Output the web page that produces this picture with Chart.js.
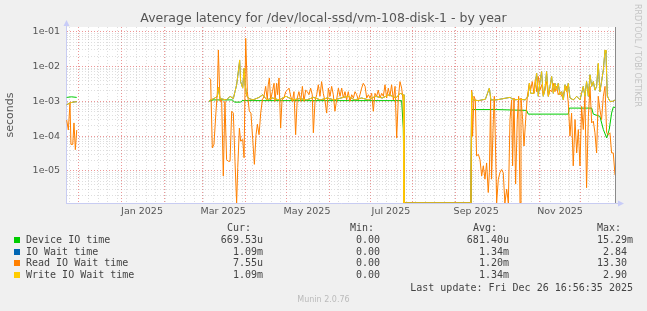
<!DOCTYPE html>
<html>
<head>
<meta charset="utf-8">
<script src="https://cdn.jsdelivr.net/npm/chart.js@4.4.1/dist/chart.umd.min.js"></script>
<style>
  body { margin: 0; background: #f0f0f0; }
  #wrap { position: relative; width: 647px; height: 311px; overflow: hidden; }
  canvas { position: absolute; left: 0; top: 0; }
  .txt { position: absolute; white-space: pre; font-family: "DejaVu Sans Mono", monospace;
         font-size: 10px; line-height: 12px; height: 12px; color: #444; }
  #title { position: absolute; left: 0; width: 647px; top: 10px; text-align: center;
           font-family: "DejaVu Sans", sans-serif; font-size: 12.5px; line-height: 16px; color: #555; }
  #brand { position: absolute; left: 633px; top: 4px; writing-mode: vertical-rl;
           font-family: "DejaVu Sans", sans-serif; font-size: 8px; color: #c4c4c4; }
  #munin { position: absolute; left: 0; width: 647px; top: 295px; text-align: center;
           font-family: "DejaVu Sans", sans-serif; font-size: 8px; line-height: 10px; color: #bbb; }
  .box { position: absolute; width: 6px; height: 6px; }
</style>
</head>
<body>
<div id="wrap">
  <canvas id="myChart" width="647" height="311"></canvas>
  <div id="title">Average latency for /dev/local-ssd/vm-108-disk-1 - by year</div>
  <div id="brand">RRDTOOL / TOBI OETIKER</div>
  <div id="legend"></div>
  <div id="munin">Munin 2.0.76</div>
</div>
<script>
// days since the start of the graph (Nov 21 2024 16:56), values in seconds
const deviceDays = [0.5, 4, 7.8, 8.5,
  104.2, 107, 121, 122.5, 127, 128, 160, 200, 244.1, 245.3, 246, 294.5,
  295, 313.2, 335, 336.2, 365.3, 366, 382.3, 383.5, 388.3, 390.8, 393.2, 395.1, 396.8, 398, 399.3];
const deviceTime = [1.3e-3, 1.35e-3, 1.3e-3, null,
  1.0e-3, 1.1e-3, 1.1e-3, 9.5e-4, 9.5e-4, 1.05e-3, 1.05e-3, 1.05e-3, 1.05e-3, 1.7e-4, 0, 0,
  5.8e-4, 5.8e-4, 5.5e-4, 4.3e-4, 4.3e-4, 6.4e-4, 6.4e-4, 4.3e-4, 3.7e-4, 1.55e-4, 8.9e-5, 1.55e-4, 4.6e-4, 6.8e-4, 6.7e-4];

const writeDays = [0.5, 2.9, 5.0, 7.8, 8.5,
  104.2, 107.6, 110.1, 110.8, 112.0, 116.8, 119.3, 121.7, 122.9, 124.1,
  125.0, 126.3, 127.0, 128.5, 129.5, 130.3, 131.5, 133.3, 136.0, 140.4,
  143.0, 146.0, 150.0, 155.0, 160.0, 165.0, 170.0, 175.0, 180.0, 185.0,
  190.0, 195.0, 200.0, 205.0, 210.0, 215.0, 220.0, 225.0, 230.0, 235.0,
  240.0, 243.0, 245.3, 245.8, 294.5,
  295.0, 295.7, 300.0, 305.0, 307.9, 309.0, 313.0, 318.0, 322.9, 326.0,
  330.0, 334.0, 336.0, 337.0, 338.0, 340.3, 342.3, 343.5, 344.7, 345.9,
  347.1, 348.3, 349.5, 350.8, 352.0, 353.2, 354.4, 355.6, 356.8, 358.0,
  359.2, 360.5, 361.7, 362.9, 364.1, 365.3, 366.5, 369.0, 371.4, 373.8,
  376.2, 377.4, 378.6, 379.9, 381.1, 382.3, 383.5, 384.7, 385.9, 387.1,
  388.3, 389.5, 390.8, 392.0, 392.7, 393.7, 395.6, 397.5, 399.3];
const writeWait = [8.0e-4, 9.0e-4, 9.5e-4, 9.8e-4, null,
  1.05e-3, 1.2e-3, 1.4e-3, 2.5e-3, 1.2e-3, 1.1e-3, 1.4e-3, 1.2e-3, 1.9e-3, 3.0e-3,
  5.7e-3, 1.55e-2, 3.7e-3, 2.4e-3, 9.0e-3, 3.0e-3, 1.4e-3, 1.2e-3, 1.1e-3, 1.3e-3,
  1.55e-3, 1.1e-3, 1.25e-3, 1.1e-3, 1.4e-3, 1.1e-3, 1.2e-3, 1.1e-3, 1.3e-3, 1.1e-3,
  1.25e-3, 1.1e-3, 1.25e-3, 1.4e-3, 1.1e-3, 1.25e-3, 1.1e-3, 1.4e-3, 1.25e-3, 1.55e-3,
  1.25e-3, 1.7e-3, 1.55e-3, 0, 0,
  1.9e-3, 1.1e-3, 1.05e-3, 1.15e-3, 2.4e-3, 1.1e-3, 1.1e-3, 1.2e-3, 1.3e-3, 1.1e-3,
  1.15e-3, 1.1e-3, 1.4e-3, 3.3e-3, 1.7e-3, 1.7e-3, 6.4e-3, 1.4e-3, 3.7e-3, 7.2e-3,
  1.4e-3, 2.1e-3, 7.2e-3, 1.4e-3, 2.7e-3, 5.2e-3, 1.7e-3, 3.3e-3, 2.1e-3, 3.3e-3,
  1.55e-3, 1.9e-3, 1.1e-3, 3.0e-3, 1.9e-3, 3.3e-3, 1.25e-3, 1.1e-3, 1.4e-3, 1.1e-3,
  2.7e-3, 1.4e-3, 3.7e-3, 1.4e-3, 5.8e-3, 2.7e-3, 3.7e-3, 2.1e-3, 2.7e-3, 1.25e-2,
  1.9e-3, 3.7e-3, 8.0e-3, 3.0e-2, 2.4e-2, 1.4e-3, 1.0e-3, 1.0e-3, 1.09e-3];
// IO wait is read at the same days as the write wait (it sits under it)
const ioWait = [8.0e-4, 9.0e-4, 9.5e-4, 9.8e-4, null,
  1.05e-3, 1.2e-3, 1.4e-3, 2.5e-3, 1.2e-3, 1.1e-3, 1.4e-3, 1.2e-3, 1.9e-3, 3.0e-3,
  5.7e-3, 1.5e-2, 3.7e-3, 2.4e-3, 8.8e-3, 3.0e-3, 1.4e-3, 1.2e-3, 1.1e-3, 1.3e-3,
  1.55e-3, 1.1e-3, 1.25e-3, 1.1e-3, 1.4e-3, 1.1e-3, 1.2e-3, 1.1e-3, 1.3e-3, 1.1e-3,
  1.25e-3, 1.1e-3, 1.25e-3, 1.4e-3, 1.1e-3, 1.25e-3, 1.1e-3, 1.4e-3, 1.25e-3, 1.55e-3,
  1.25e-3, 1.7e-3, 1.55e-3, 0, 0,
  1.9e-3, 1.1e-3, 1.05e-3, 1.15e-3, 2.4e-3, 1.1e-3, 1.1e-3, 1.2e-3, 1.3e-3, 1.1e-3,
  1.15e-3, 1.1e-3, 1.4e-3, 3.3e-3, 1.7e-3, 1.7e-3, 6.4e-3, 1.4e-3, 3.7e-3, 7.2e-3,
  1.4e-3, 2.1e-3, 7.2e-3, 1.4e-3, 2.7e-3, 5.2e-3, 1.7e-3, 3.3e-3, 2.1e-3, 3.3e-3,
  1.55e-3, 1.9e-3, 1.1e-3, 3.0e-3, 1.9e-3, 3.3e-3, 1.25e-3, 1.1e-3, 1.4e-3, 1.1e-3,
  2.7e-3, 1.4e-3, 3.7e-3, 1.4e-3, 5.8e-3, 2.7e-3, 3.7e-3, 2.1e-3, 2.7e-3, 1.2e-2,
  1.9e-3, 3.7e-3, 8.0e-3, 2.9e-2, 2.4e-2, 1.4e-3, 1.0e-3, 1.0e-3, 1.09e-3];

const readDays = [0.5, 1.7, 2.9, 3.6, 4.9, 5.8, 6.8, 7.8, 8.5,
  104.2, 105.2, 106.4, 107.6, 109.1, 110.1, 110.8, 112.0, 113.2, 114.4,
  115.6, 116.8, 118.1, 119.3, 120.5, 121.7, 122.9, 124.1, 124.9, 126.1,
  127.0, 128.5, 129.5, 130.7, 131.9, 133.3, 134.5, 135.8, 137.0, 138.2,
  139.2, 140.4, 141.6, 142.8, 144.0, 145.2, 146.4, 147.1, 147.9, 148.8,
  150.1, 151.3, 152.0, 153.2, 153.9, 154.9, 156.1, 157.1, 158.5, 159.8,
  161.0, 162.2, 163.4, 164.6, 165.8, 167.0, 168.2, 169.4, 170.7, 171.9,
  173.1, 174.3, 175.5, 176.7, 177.9, 179.1, 179.9, 181.1, 182.3, 183.5,
  184.7, 185.9, 187.1, 188.4, 189.6, 190.8, 192.0, 193.2, 194.4, 195.6,
  196.8, 198.1, 199.3, 200.5, 201.7, 202.9, 204.1, 205.3, 206.5, 207.8,
  209.0, 210.2, 211.4, 212.6, 213.8, 215.0, 216.2, 217.5, 218.7, 219.9,
  221.1, 222.3, 223.5, 224.7, 225.9, 227.1, 228.4, 229.6, 230.8, 232.0,
  233.2, 234.4, 235.6, 236.8, 238.1, 239.3, 240.5, 241.7, 242.9, 244.1,
  245.3, 245.8, 294.5,
  295.0, 295.7, 296.7, 297.7, 298.6, 299.9, 301.1, 302.3, 303.5, 304.7,
  305.9, 307.1, 307.9, 308.8, 309.5, 310.8, 311.5, 312.2, 313.2, 314.4,
  315.6, 316.8, 318.0, 319.2, 320.5, 321.7, 322.9, 324.1, 324.8, 325.8,
  327.0, 328.2, 329.2, 330.2, 330.9, 332.1, 333.1, 334.3, 335.5, 337.0,
  337.9, 339.1, 340.3, 341.3, 342.3, 343.5, 344.7, 345.9, 347.1, 348.3,
  349.5, 350.8, 352.0, 353.2, 354.4, 355.6, 356.8, 358.0, 359.2, 360.5,
  361.7, 362.9, 364.1, 365.3, 366.5, 367.7, 368.9, 370.2, 371.4, 372.6,
  373.8, 375.0, 376.2, 377.4, 378.6, 379.9, 381.1, 382.3, 383.5, 384.7,
  385.9, 387.1, 388.3, 389.5, 390.8, 392.0, 393.2, 394.4, 395.6, 396.8,
  398.0, 399.3];
const readWait = [2.9e-4, 1.5e-4, 8.9e-4, 5.8e-5, 5.8e-5, 2.4e-4, 4.1e-5, 1.5e-4, null,
  4.7e-3, 4.2e-3, 4.6e-5, 5.8e-5, 5.2e-4, 1.9e-3, 3.0e-2, 1.0e-3, 1.1e-3, 7.2e-6,
  1.0e-3, 2.1e-5, 1.9e-5, 1.9e-5, 5.2e-4, 4.6e-4, 1.9e-5, 0, 1.25e-5, 1.7e-4,
  7.2e-5, 8.0e-5, 2.4e-5, 6.5e-2, 1.9e-3, 5.2e-4, 4.6e-4, 8.0e-5, 1.55e-5, 1.1e-4,
  2.2e-4, 1.1e-4, 4.6e-4, 1.1e-3, 1.4e-3, 2.7e-3, 1.1e-3, 3.0e-3, 4.7e-3, 1.1e-3,
  1.9e-3, 3.3e-3, 1.0e-3, 3.3e-3, 1.55e-3, 4.7e-3, 1.7e-4, 1.1e-3, 1.25e-3, 1.9e-3,
  2.1e-3, 2.4e-3, 1.4e-3, 1.0e-3, 1.9e-3, 1.1e-4, 1.25e-3, 1.9e-3, 1.0e-3, 2.7e-3,
  1.0e-3, 2.1e-3, 1.9e-3, 1.55e-3, 2.4e-3, 1.55e-3, 1.25e-4, 1.0e-3, 1.55e-3, 3.0e-3,
  1.4e-3, 3.7e-3, 1.7e-3, 1.0e-3, 4.6e-4, 2.4e-3, 1.4e-3, 2.7e-3, 1.55e-3, 5.2e-4,
  1.1e-3, 2.4e-3, 1.4e-3, 2.4e-3, 1.25e-3, 1.9e-3, 1.1e-3, 1.9e-3, 1.0e-3, 1.55e-3,
  1.25e-3, 1.9e-3, 1.55e-3, 1.1e-3, 1.55e-3, 2.4e-3, 3.3e-3, 2.7e-3, 1.25e-3, 1.55e-3,
  1.25e-3, 1.7e-3, 5.2e-4, 1.7e-3, 1.4e-3, 2.1e-3, 1.25e-3, 1.7e-3, 1.4e-3, 3.0e-3,
  1.25e-3, 2.4e-3, 1.4e-3, 3.0e-3, 1.1e-3, 2.7e-3, 8.9e-5, 1.25e-3, 3.7e-3, 2.4e-3,
  1.0e-3, 0, 0,
  2.1e-3, 1.0e-4, 1.4e-3, 1.1e-3, 2.7e-5, 3.0e-5, 2.1e-5, 7.2e-6, 1.4e-5, 5.8e-6,
  1.7e-5, 2.4e-6, 8.9e-6, 1.1e-3, 5.8e-6, 3.0e-4, 1.4e-3, 1.0e-4, 0, 5.8e-6,
  8.9e-6, 1.1e-5, 8.9e-6, 0, 3.0e-6, 0, 3.0e-4, 1.1e-3, 1.4e-5, 1.25e-3,
  4.2e-6, 3.0e-4, 1.4e-3, 0, 1.25e-3, 3.0e-4, 5.2e-5, 3.0e-4, 1.4e-3, 3.3e-3,
  2.1e-3, 3.7e-3, 1.7e-3, 4.2e-3, 1.9e-3, 5.2e-3, 2.1e-3, 3.0e-3, 1.55e-3, 2.4e-3,
  3.7e-3, 1.4e-3, 2.1e-3, 1.9e-3, 3.3e-3, 1.9e-3, 2.7e-3, 1.55e-3, 1.9e-3, 1.4e-3,
  1.7e-3, 2.1e-3, 2.7e-3, 9.0e-4, 1.0e-4, 4.6e-4, 1.4e-5, 3.0e-4, 3.3e-5, 1.55e-4,
  1.4e-5, 7.2e-4, 1.55e-4, 1.4e-3, 3.3e-6, 3.7e-4, 2.7e-3, 2.4e-4, 2.7e-4, 1.25e-4,
  3.3e-5, 1.4e-3, 5.8e-4, 3.0e-4, 1.4e-3, 2.7e-3, 1.25e-4, 1.1e-4, 1.25e-4, 3.3e-5,
  3.3e-5, 7.6e-6];

const seriesNames = ['Device IO time', 'IO Wait time', 'Read IO Wait time', 'Write IO Wait time'];
const curText = ['669.53u', '1.09m', '7.55u', '1.09m'];
const minText = ['0.00', '0.00', '0.00', '0.00'];
const avgText = ['681.40u', '1.34m', '1.20m', '1.34m'];
const maxText = ['15.29m', '2.84', '13.30', '2.90'];
const xTickLabels = ['Jan 2025', 'Mar 2025', 'May 2025', 'Jul 2025', 'Sep 2025', 'Nov 2025'];
const yTickLabels = ['1e-05', '1e-04', '1e-03', '1e-02', '1e-01'];

const colors = ['#00cc00', '#0066b3', '#ff8000', '#ffcc00'];
const START = new Date(2024, 10, 21, 16, 56, 35);
const TOTAL_DAYS = 400;
const Y_MIN = 1.2e-6;
const Y_MAX = 0.137;
const MONTHS = ['Jan','Feb','Mar','Apr','May','Jun','Jul','Aug','Sep','Oct','Nov','Dec'];

const toDay = d => (d - START) / 864e5;
// zero values sit on the bottom edge like rrdtool does on a log axis
const points = (days, vals) => days.map((d, i) => ({ x: d, y: vals[i] === 0 ? Y_MIN : vals[i] }));

// x grid: month starts (red), sundays (grey), label positions (no line)
const xTicks = [];
for (let i = 0; i < 15; i++) {
  const v = toDay(new Date(2024, 10 + i, 1));
  if (v >= 0 && v <= TOTAL_DAYS) xTicks.push({ value: v, kind: 'major', label: '' });
}
for (let d = new Date(2024, 10, 24); toDay(d) <= TOTAL_DAYS; d = new Date(d.getFullYear(), d.getMonth(), d.getDate() + 7)) {
  const v = toDay(d);
  if (!xTicks.some(t => Math.abs(t.value - v) < 0.05)) xTicks.push({ value: v, kind: 'minor', label: '' });
}
xTickLabels.forEach(l => {
  const [m, y] = l.split(' ');
  xTicks.push({ value: toDay(new Date(+y, MONTHS.indexOf(m), 16)), kind: 'label', label: l });
});
xTicks.sort((a, b) => a.value - b.value);

// y grid: decades (red, labelled) and 2..9 (grey)
const yTicks = [];
for (let e = -7; e <= 0; e++) {
  for (let m = 1; m <= 9; m++) {
    const v = Number(m + 'e' + e);
    if (v < Y_MIN || v > Y_MAX) continue;
    const lab = yTickLabels.find(s => Math.abs(Number(s) - v) < v * 1e-6);
    yTicks.push({ value: v, kind: m === 1 ? 'major' : 'minor', label: lab || '' });
  }
}

const gridColor = { major: 'rgba(225, 80, 80, 0.6)', minor: 'rgba(160, 160, 160, 0.35)', label: 'rgba(0,0,0,0)' };

const decor = {
  id: 'decor',
  beforeDraw(chart) {
    const { ctx, chartArea: a } = chart;
    ctx.save();
    ctx.fillStyle = '#ffffff';
    ctx.fillRect(a.left, a.top, a.right - a.left, a.bottom - a.top);
    ctx.restore();
  },
  afterDraw(chart) {
    const { ctx, chartArea: a, scales } = chart;
    const xNow = Math.round(scales.x.getPixelForValue(deviceDays[deviceDays.length - 1])) + 0.5;
    ctx.save();
    ctx.strokeStyle = '#8a8a8a';
    ctx.lineWidth = 1;
    ctx.beginPath();
    ctx.moveTo(xNow, a.top);
    ctx.lineTo(xNow, a.bottom);
    ctx.stroke();
    ctx.strokeStyle = '#c8ccf2';
    ctx.beginPath();
    ctx.moveTo(a.left + 0.5, a.top);
    ctx.lineTo(a.left + 0.5, a.top - 4);
    ctx.moveTo(a.right, a.bottom + 0.5);
    ctx.lineTo(a.right + 3, a.bottom + 0.5);
    ctx.stroke();
    ctx.fillStyle = '#c8ccf8';
    ctx.beginPath();
    ctx.moveTo(a.left - 2.5, a.top - 1);
    ctx.lineTo(a.left + 3.5, a.top - 1);
    ctx.lineTo(a.left + 0.5, a.top - 7);
    ctx.fill();
    ctx.beginPath();
    ctx.moveTo(a.right + 2, a.bottom - 2.5);
    ctx.lineTo(a.right + 2, a.bottom + 3.5);
    ctx.lineTo(a.right + 8, a.bottom + 0.5);
    ctx.fill();
    ctx.restore();
  }
};

Chart.defaults.font.family = '"DejaVu Sans", sans-serif';

const ctx = document.getElementById('myChart').getContext('2d');
const myChart = new Chart(ctx, {
  type: 'line',
  data: {
    datasets: [
      { label: seriesNames[0], data: points(deviceDays, deviceTime), borderColor: colors[0], order: 4 },
      { label: seriesNames[1], data: points(writeDays, ioWait), borderColor: colors[1], order: 3 },
      { label: seriesNames[2], data: points(readDays, readWait), borderColor: colors[2], order: 2 },
      { label: seriesNames[3], data: points(writeDays, writeWait), borderColor: colors[3], order: 1 },
    ],
  },
  options: {
    responsive: false,
    animation: false,
    layout: { padding: { left: 0, top: 27, right: 31, bottom: 92 } },
    elements: { point: { radius: 0 }, line: { borderWidth: 1, tension: 0 } },
    plugins: { legend: { display: false }, tooltip: { enabled: false }, title: { display: false } },
    scales: {
      x: {
        type: 'linear',
        min: 0,
        max: TOTAL_DAYS,
        afterBuildTicks: s => { s.ticks = xTicks.map(t => ({ value: t.value })); },
        afterFit: s => { s.height = 16; },
        ticks: {
          autoSkip: false, maxRotation: 0, minRotation: 0, padding: 3,
          color: '#555', font: { size: 9.5 },
          callback: (v, i) => xTicks[i] ? xTicks[i].label : '',
        },
        grid: { drawTicks: false, color: c => gridColor[xTicks[c.index] ? xTicks[c.index].kind : 'label'] },
        border: { color: '#c8ccf2', dash: [1, 2] },
      },
      y: {
        type: 'logarithmic',
        min: Y_MIN,
        max: Y_MAX,
        afterBuildTicks: s => { s.ticks = yTicks.map(t => ({ value: t.value })); },
        afterFit: s => { s.width = 66; },
        ticks: {
          autoSkip: false, padding: 6, color: '#555', font: { size: 9.5 },
          callback: (v, i) => yTicks[i] ? yTicks[i].label : '',
        },
        grid: { drawTicks: false, color: c => gridColor[yTicks[c.index] ? yTicks[c.index].kind : 'label'] },
        border: { color: '#c8ccf2', dash: [1, 2] },
        title: { display: true, text: 'seconds', color: '#555', font: { size: 11 }, padding: { top: 4, bottom: 0 } },
      },
    },
  },
  plugins: [decor],
});

// rrdtool style legend under the chart
const legend = document.getElementById('legend');
function addText(text, cy, opts) {
  const el = document.createElement('div');
  el.className = 'txt';
  el.textContent = text;
  el.style.top = (cy - 6) + 'px';
  if (opts.right !== undefined) el.style.right = (647 - opts.right) + 'px';
  else el.style.left = opts.left + 'px';
  legend.appendChild(el);
}
const unitPad = s => /[a-z]$/i.test(s) ? s : s + ' ';
const colRight = [263, 386, 509, 633];
['Cur:', 'Min:', 'Avg:', 'Max:'].forEach((h, i) => addText(h + '  ', 228, { right: colRight[i] }));
const rowY = [240, 251.7, 263.3, 275];
seriesNames.forEach((name, i) => {
  const box = document.createElement('div');
  box.className = 'box';
  box.style.left = '14px';
  box.style.top = (rowY[i] - 3) + 'px';
  box.style.background = colors[i];
  legend.appendChild(box);
  addText(name, rowY[i], { left: 26 });
  [curText, minText, avgText, maxText].forEach((col, j) => addText(unitPad(col[i]), rowY[i], { right: colRight[j] }));
});
addText('Last update: Fri Dec 26 16:56:35 2025', 287.7, { right: 633 });
</script>
</body>
</html>
